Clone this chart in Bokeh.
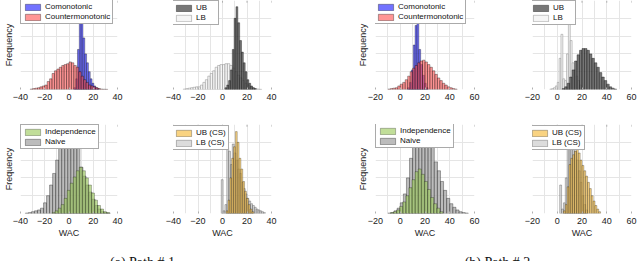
from bokeh.plotting import figure
from bokeh.models import Legend, LegendItem, FixedTicker, LinearAxis, Range1d, ColumnDataSource
from bokeh.layouts import row, column
from bokeh.embed import file_html
from bokeh.resources import INLINE
from bokeh.core.properties import value

# ---------------- data ----------------
ticks_path1 = [-40, -20, 0, 20, 40]
ticks_path2 = [-20, 0, 20, 40, 60]
xrange_path1 = (-40, 40)
xrange_path2 = (-20, 60)
captions = ["(a) Path # 1", "(b) Path # 2"]

# Path 1, top-left: Comonotonic / Countermonotonic
p1_como_start, p1_como_width = 4, 1.5
p1_como = [2, 12, 45, 88, 75, 58, 40, 30, 20, 12, 7, 4, 2, 1]
p1_counter_start, p1_counter_width = -32, 2
p1_counter = [0.5, 1, 1.5, 2, 3, 4, 5, 9, 12, 18, 21, 23, 25, 27, 28, 29,
              31, 30, 27, 25, 20, 15, 11, 8, 5, 4, 3, 2, 1, 0.5, 0.3, 0.2]

# Path 1, top-right: UB / LB
p1_ub_start, p1_ub_width = 2, 1.5
p1_ub = [2, 5, 10, 22, 45, 80, 93, 75, 55, 42, 30, 20, 11, 7, 4, 2, 1]
p1_lb_start, p1_lb_width = -32, 2
p1_lb = [0.5, 1, 1.5, 2, 2.5, 3, 3, 5, 8, 11, 15, 18, 21, 25, 27, 28,
         28, 29, 29, 27, 24, 20, 16, 13, 10, 7, 5, 3, 2, 1, 0.5, 0.2]

# Path 1, bottom-left: Independence / Naive
p1_naive_start, p1_naive_width = -36, 2.5
p1_naive = [0.5, 1, 2, 3, 4, 6, 12, 20, 32, 45, 60, 75, 85, 90, 92, 90,
            86, 80, 52, 42, 32, 24, 16, 9, 5, 2, 1, 0.5]
p1_indep_start, p1_indep_width = -14, 2.5
p1_indep = [1, 3, 6, 10, 17, 26, 34, 41, 48, 52, 48, 40, 32, 23, 15, 9, 5, 2, 1]

# Path 1, bottom-right: UB (CS) / LB (CS)
p1_ubcs_start, p1_ubcs_width = 3, 1.5
p1_ubcs = [3, 15, 40, 62, 75, 92, 80, 62, 50, 36, 25, 17, 10, 5, 2]
p1_lbcs_start, p1_lbcs_width = -1, 1.5
p1_lbcs = [38, 3, 10, 74, 70, 55, 78, 68, 60, 50, 45, 35, 28, 22, 17, 14,
           11, 9, 7, 5, 4, 3, 2, 1]

# Path 2, top-left: Comonotonic / Countermonotonic
p2_como_start, p2_como_width = 6, 1.5
p2_como = [2, 8, 22, 50, 72, 88, 45, 28, 16, 7, 2]
p2_counter_start, p2_counter_width = -10, 2
p2_counter = [0.5, 1, 1.5, 2, 4, 6, 8, 11, 15, 20, 24, 27, 30, 32, 33, 31,
              28, 25, 21, 17, 13, 10, 7, 5, 3, 2, 1, 0.5]

# Path 2, top-right: UB / LB
p2_lb_start, p2_lb_width = -6, 1.5
p2_lb = [0.5, 1, 2, 4, 8, 35, 62, 12, 10, 40, 95, 55, 30, 22, 15, 10, 5, 2]
p2_ub_start, p2_ub_width = 4, 2
p2_ub = [1, 3, 7, 14, 22, 32, 39, 44, 46, 46, 44, 40, 35, 30, 25, 19, 14,
         10, 6, 3, 1.5, 0.5]

# Path 2, bottom-left: Independence / Naive
p2_naive_start, p2_naive_width = -10, 2.5
p2_naive = [0.5, 1, 3, 6, 12, 22, 40, 62, 80, 90, 95, 95, 92, 88, 75, 58,
            48, 36, 26, 17, 11, 7, 4, 2, 1, 0.5]
p2_indep_start, p2_indep_width = -8, 2.5
p2_indep = [1, 2, 4, 8, 13, 20, 29, 38, 47, 50, 44, 36, 27, 18, 11, 6, 2]

# Path 2, bottom-right: UB (CS) / LB (CS)
p2_lbcs_start, p2_lbcs_width = 2, 1.5
p2_lbcs = [32, 5, 12, 40, 72, 74, 73, 72, 70, 60, 48, 35, 20, 10, 4]
p2_ubcs_start, p2_ubcs_width = 5, 1.5
p2_ubcs = [3, 10, 30, 55, 62, 66, 70, 72, 68, 60, 54, 48, 42, 35, 28, 20,
           14, 9, 5, 2]

# ---------------- styling ----------------
FONT = "Liberation Sans"
STYLES = {
    "como": dict(fill_color="#4f4fff", fill_alpha=0.8, line_color="black", line_alpha=0.55),
    "counter": dict(fill_color="#ff4f4f", fill_alpha=0.6, line_color="black", line_alpha=0.55),
    "ub": dict(fill_color="#555555", fill_alpha=0.8, line_color="black", line_alpha=0.6),
    "lb": dict(fill_color="#f2f2f2", fill_alpha=0.8, line_color="#8a8a8a", line_alpha=0.8),
    "indep": dict(fill_color="#9fcd62", fill_alpha=0.65, line_color="black", line_alpha=0.45),
    "naive": dict(fill_color="#a6a6a6", fill_alpha=0.75, line_color="black", line_alpha=0.55),
    "ubcs": dict(fill_color="#f6c04c", fill_alpha=0.7, line_color="black", line_alpha=0.45),
    "lbcs": dict(fill_color="#c4c4c4", fill_alpha=0.6, line_color="#444444", line_alpha=0.6),
}


def hist(p, start, width, counts, style):
    left = [start + i * width for i in range(len(counts))]
    right = [l + width for l in left]
    src = ColumnDataSource(dict(left=left, right=right, top=counts, bottom=[0] * len(counts)))
    return p.quad(left="left", right="right", top="top", bottom="bottom", source=src,
                  line_width=0.6, **STYLES[style])


def panel(width, height, borders, xr, ticks, ylabel=None, xlabel=None, ylabel_standoff=7):
    lb, rb, tb, bb = borders
    p = figure(width=width, height=height, x_range=Range1d(*xr), y_range=Range1d(0, 100),
               output_backend="svg", toolbar_location=None,
               min_border_left=lb, min_border_right=rb, min_border_top=tb, min_border_bottom=bb,
               x_axis_location=None, y_axis_location=None)
    p.outline_line_color = None
    p.background_fill_color = "white"
    p.border_fill_color = "white"
    below = LinearAxis(ticker=FixedTicker(ticks=ticks), axis_line_color=None,
                       major_tick_in=2, major_tick_out=0, major_tick_line_color="#b0b0b0",
                       minor_tick_line_color=None, major_label_standoff=4,
                       major_label_text_font=FONT, major_label_text_font_size="9px",
                       major_label_text_color="#222222")
    if xlabel:
        below.axis_label = xlabel
        below.axis_label_text_font = FONT
        below.axis_label_text_font_size = "9px"
        below.axis_label_text_font_style = "normal"
        below.axis_label_text_color = "#222222"
        below.axis_label_standoff = 1
    p.add_layout(below, "below")
    # small tick marks along the top edge of the frame
    p.segment(x0=ticks, y0=[100] * len(ticks), x1=ticks, y1=[97.5] * len(ticks),
              line_color="#b0b0b0", line_width=1)
    if ylabel:
        left = LinearAxis(ticker=FixedTicker(ticks=[]), axis_line_color=None,
                          major_tick_line_color=None, minor_tick_line_color=None,
                          major_label_standoff=0,
                          axis_label=ylabel, axis_label_text_font=FONT,
                          axis_label_text_font_size="9px", axis_label_text_font_style="normal",
                          axis_label_text_color="#222222", axis_label_standoff=ylabel_standoff)
        p.add_layout(left, "left")
    return p


def legend(p, items, loc):
    leg = Legend(items=[LegendItem(label=lbl, renderers=[r]) for lbl, r in items],
                 location=loc, label_text_font=FONT, label_text_font_size="8px",
                 label_height=8, glyph_height=8, glyph_width=19, padding=2, spacing=1,
                 margin=0, label_standoff=3, border_line_color="#555555",
                 border_line_width=1, background_fill_color="white", background_fill_alpha=1,
                 label_text_color="#111111")
    p.add_layout(leg)


H = 120
COLS = [(145, 17, 28), (180, 28, 54), (175, 50, 26), (140, 32, 9)]

# Row 1
w, l, r = COLS[0]
a1 = panel(w, H, (l, r, 0, 31), xrange_path1, ticks_path1, ylabel="Frequency")
r_c = hist(a1, p1_como_start, p1_como_width, p1_como, "como")
r_cm = hist(a1, p1_counter_start, p1_counter_width, p1_counter, "counter")
legend(a1, [("Comonotonic", r_c), ("Countermonotonic", r_cm)], (0, 65))

w, l, r = COLS[1]
a2 = panel(w, H, (l, r, 0, 31), xrange_path1, ticks_path1)
r_lb = hist(a2, p1_lb_start, p1_lb_width, p1_lb, "lb")
r_ub = hist(a2, p1_ub_start, p1_ub_width, p1_ub, "ub")
legend(a2, [("UB", r_ub), ("LB", r_lb)], (-2, 64))

w, l, r = COLS[2]
b1 = panel(w, H, (l, r, 0, 31), xrange_path2, ticks_path2, ylabel="Frequency", ylabel_standoff=8)
r_c2 = hist(b1, p2_como_start, p2_como_width, p2_como, "como")
r_cm2 = hist(b1, p2_counter_start, p2_counter_width, p2_counter, "counter")
legend(b1, [("Comonotonic", r_c2), ("Countermonotonic", r_cm2)], (-2, 65))

w, l, r = COLS[3]
b2 = panel(w, H, (l, r, 0, 31), xrange_path2, ticks_path2)
r_lb2 = hist(b2, p2_lb_start, p2_lb_width, p2_lb, "lb")
r_ub2 = hist(b2, p2_ub_start, p2_ub_width, p2_ub, "ub")
legend(b2, [("UB", r_ub2), ("LB", r_lb2)], (-4, 64))

# Row 2
w, l, r = COLS[0]
a3 = panel(w, H, (l, r, 4, 27), xrange_path1, ticks_path1, ylabel="Frequency", xlabel="WAC")
r_n = hist(a3, p1_naive_start, p1_naive_width, p1_naive, "naive")
r_i = hist(a3, p1_indep_start, p1_indep_width, p1_indep, "indep")
legend(a3, [("Independence", r_i), ("Naive", r_n)], (0, 64))

w, l, r = COLS[1]
a4 = panel(w, H, (l, r, 4, 27), xrange_path1, ticks_path1, xlabel="WAC")
r_lc = hist(a4, p1_lbcs_start, p1_lbcs_width, p1_lbcs, "lbcs")
r_uc = hist(a4, p1_ubcs_start, p1_ubcs_width, p1_ubcs, "ubcs")
legend(a4, [("UB (CS)", r_uc), ("LB (CS)", r_lc)], (-2, 63))

w, l, r = COLS[2]
b3 = panel(w, H, (l, r, 4, 27), xrange_path2, ticks_path2, ylabel="Frequency", xlabel="WAC",
           ylabel_standoff=8)
r_n2 = hist(b3, p2_naive_start, p2_naive_width, p2_naive, "naive")
r_i2 = hist(b3, p2_indep_start, p2_indep_width, p2_indep, "indep")
legend(b3, [("Independence", r_i2), ("Naive", r_n2)], (0, 65))

w, l, r = COLS[3]
b4 = panel(w, H, (l, r, 4, 27), xrange_path2, ticks_path2, xlabel="WAC")
r_lc2 = hist(b4, p2_lbcs_start, p2_lbcs_width, p2_lbcs, "lbcs")
r_uc2 = hist(b4, p2_ubcs_start, p2_ubcs_width, p2_ubcs, "ubcs")
legend(b4, [("UB (CS)", r_uc2), ("LB (CS)", r_lc2)], (-5, 63))

# Caption strip (bottom part cut off, as in the reference)
cap = figure(width=640, height=21, x_range=Range1d(0, 640), y_range=Range1d(21, 0),
             output_backend="svg", toolbar_location=None, min_border=0,
             x_axis_location=None, y_axis_location=None)
cap.outline_line_color = None
cap.xgrid.visible = False
cap.ygrid.visible = False
cap.text(x=[142, 497], y=[14.5, 14.5], text=captions, text_font=value("Liberation Serif"),
         text_font_size="14px", text_align="center", text_baseline="top", text_color="#111111")

layout = column(row(a1, a2, b1, b2), row(a3, a4, b3, b4), cap)

open("out.html", "w").write(file_html(layout, INLINE))
